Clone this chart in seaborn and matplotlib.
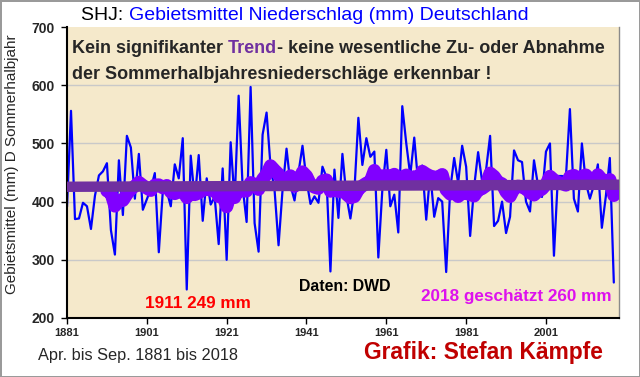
import seaborn as sns
import matplotlib.pyplot as plt
import pandas as pd

# Sommerhalbjahr (Apr.-Sep.) Gebietsmittel Niederschlag Deutschland, mm
years = list(range(1881, 2019))
rain = [391, 556, 370, 371, 398, 392, 353, 410, 445, 452,
        466, 351, 309, 471, 377, 513, 493, 405, 482, 386,
        404, 422, 449, 313, 418, 418, 392, 464, 440, 509,
        249, 479, 403, 480, 367, 440, 395, 408, 327, 457,
        300, 502, 400, 582, 425, 365, 597, 363, 314, 515,
        553, 460, 420, 325, 420, 491, 428, 402, 450, 496,
        437, 396, 409, 398, 460, 442, 280, 455, 372, 482,
        410, 371, 418, 544, 463, 509, 477, 486, 304, 420,
        489, 392, 412, 347, 564, 500, 445, 510, 430, 462,
        369, 450, 374, 406, 400, 279, 420, 475, 432, 496,
        460, 341, 425, 485, 435, 455, 513, 358, 367, 400,
        346, 374, 488, 471, 468, 400, 383, 471, 428, 408,
        486, 500, 307, 444, 444, 442, 559, 405, 383, 500,
        432, 405, 428, 464, 355, 409, 475, 261]
# linearer Trend
trend_years = [1881, 2018]
trend_mm = [425.5, 429.0]
xticks = [1881, 1901, 1921, 1941, 1961, 1981, 2001]
yticks = [200, 300, 400, 500, 600, 700]

df = pd.DataFrame({"Jahr": years, "Niederschlag": rain})
# gleitendes 11-jaehriges Mittel (nachlaufend, wie Excel-Trendlinie)
df["Mittel"] = df["Niederschlag"].rolling(11).mean()

sns.set_theme(style="white")
plt.rcParams['font.family'] = ['Liberation Sans', 'DejaVu Sans']

fig = plt.figure(figsize=(6.4, 3.77), dpi=100)
fig.patch.set_facecolor('white')
fig.patch.set_edgecolor('#9a9a9a')
fig.patch.set_linewidth(2)
ax = fig.add_axes([0.1047, 0.1565, 0.8625, 0.7718])
ax.set_facecolor('#f5e9cb')

for v in yticks[1:-1]:
    ax.axhline(v, color='#c9c9c9', lw=1, zorder=0)

sns.lineplot(data=df, x="Jahr", y="Niederschlag", color='#0000ff', lw=1.6, ax=ax, zorder=2)
sns.lineplot(data=df, x="Jahr", y="Mittel", color='#8000ff', lw=9.5, ax=ax, zorder=3,
             solid_capstyle='round')
ax.axline((trend_years[0], trend_mm[0]), (trend_years[1], trend_mm[1]),
          color='#7030a0', lw=7.5, solid_capstyle='butt', zorder=4)

ax.set_xlim(1881, 2019.3)
ax.set_ylim(200, 700)
ax.set_xticks(xticks)
ax.set_yticks(yticks)
ax.set(xlabel=None, ylabel=None)
ax.tick_params(axis='x', labelsize=8, length=4, width=1, color='black', pad=3, bottom=True)
ax.tick_params(axis='y', labelsize=10, length=4, width=1, color='black', pad=5, left=True)
for lab in ax.get_xticklabels() + ax.get_yticklabels():
    lab.set_fontweight('bold')

ax.spines['top'].set_visible(False)
ax.spines['right'].set_color('#8a8a8a')
ax.spines['right'].set_linewidth(1)
for axis in ['bottom', 'left']:
    ax.spines[axis].set_linewidth(1.5)
    ax.spines[axis].set_color('black')

# Titel
t = fig.text(0.127, 0.958, "SHJ: ", fontsize=14, color='black', va='center')
ax.annotate("Gebietsmittel Niederschlag (mm) Deutschland", xy=(1, 0), xycoords=t,
            va='bottom', fontsize=14, color='#0000ff')

# Kommentar im Diagramm
t1 = ax.text(0.009, 0.925, "Kein signifikanter ", transform=ax.transAxes,
             fontsize=13, fontweight='bold', va='center', zorder=6)
t2 = ax.annotate("Trend", xy=(1, 0), xycoords=t1, va='bottom', fontsize=13,
                 fontweight='bold', color='#7030a0', zorder=6)
ax.annotate("- keine wesentliche Zu- oder Abnahme", xy=(1, 0), xycoords=t2, va='bottom',
            fontsize=13, fontweight='bold', zorder=6)
ax.text(0.009, 0.838, "der Sommerhalbjahresniederschläge erkennbar !", transform=ax.transAxes,
        fontsize=13, fontweight='bold', va='center', zorder=6)

ax.text(0.237, 0.050, "1911 249 mm", transform=ax.transAxes, color='#ff0000',
        fontsize=12.3, fontweight='bold', ha='center', va='center', zorder=6)
ax.text(0.504, 0.108, "Daten: DWD", transform=ax.transAxes, color='black',
        fontsize=11.4, fontweight='bold', ha='center', va='center', zorder=6)
ax.text(0.987, 0.0756, "2018 geschätzt 260 mm", transform=ax.transAxes, color='#dd11ee',
        fontsize=12.3, fontweight='bold', ha='right', va='center', zorder=6)

fig.text(0.019, 0.565, "Gebietsmittel (mm) D Sommerhalbjahr", rotation=90,
         fontsize=11, ha='center', va='center')
fig.text(0.059, 0.058, "Apr. bis Sep. 1881 bis 2018", fontsize=11.8, va='center')
fig.text(0.942, 0.066, "Grafik: Stefan Kämpfe", fontsize=16.4, fontweight='bold',
         color='#c00000', ha='right', va='center')

plt.savefig('out.png', dpi=100)
